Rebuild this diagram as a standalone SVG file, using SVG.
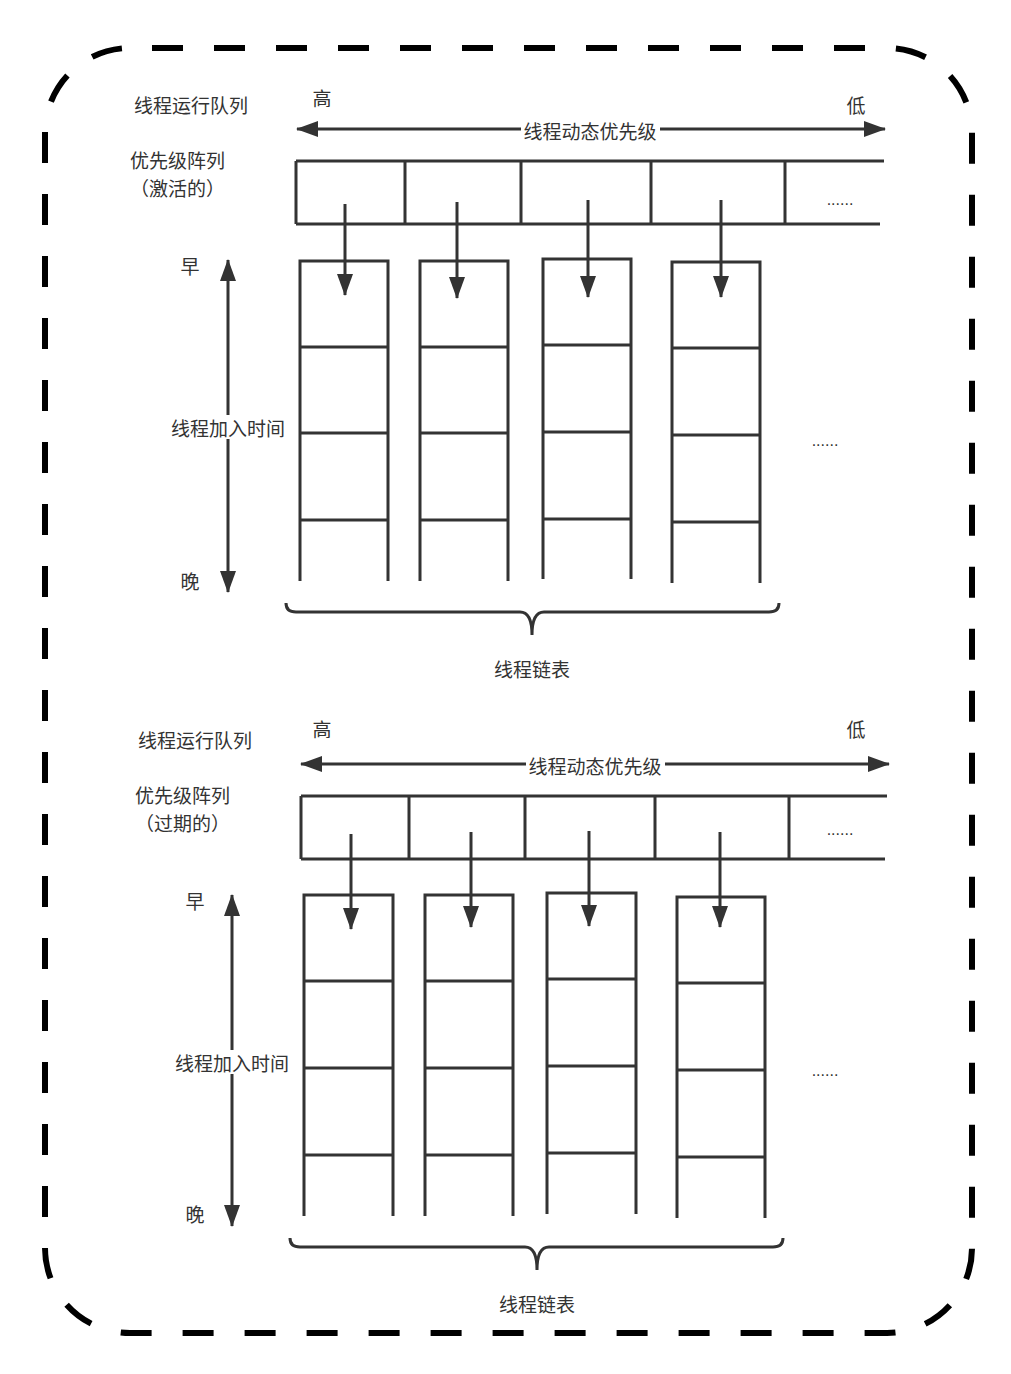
<svg xmlns="http://www.w3.org/2000/svg" width="1011" height="1374" viewBox="0 0 1011 1374">
<style>
.t{font-family:"Noto Sans CJK SC","Noto Sans",sans-serif;font-size:19px;fill:#333;dominant-baseline:central}
.m{text-anchor:middle}
.d{font-family:"Liberation Sans",sans-serif;font-size:16px;fill:#333;text-anchor:middle;dominant-baseline:central}
.s{fill:none;stroke:#333;stroke-width:3}
.a{fill:none;stroke:#333;stroke-width:3}
.bg{fill:#fff}
</style>
<defs>
<marker id="ah" viewBox="0 0 22 16" refX="21" refY="8" markerWidth="22" markerHeight="16" markerUnits="userSpaceOnUse" orient="auto-start-reverse">
<path d="M0,0 L22,8 L0,16 z" fill="#333"/>
</marker>
</defs>
<rect width="1011" height="1374" fill="#fff"/>
<g id="border">
<rect x="45" y="48" width="927" height="1285" rx="85" ry="85" fill="none" stroke="#000" stroke-width="6" stroke-dasharray="31 31" stroke-dashoffset="40"/>
</g>

<!-- top section -->
<g id="top-title"><text class="t" x="134" y="104">线程运行队列</text></g>
<g id="top-high"><text class="t m" x="322" y="97">高</text></g>
<g id="top-low"><text class="t m" x="856" y="104">低</text></g>
<g id="top-array-label">
<text class="t" x="130" y="159">优先级阵列</text>
<text class="t" x="130" y="187">（激活的）</text>
</g>
<g id="top-array">
<path class="s" d="M296,161 H884 M296,224 H880 M296,161 V224 M405,161 V224 M521,161 V224 M651,161 V224 M785,161 V224"/>
<text class="d" x="840" y="199">......</text>
</g>
<g id="top-list-1"><path class="s" d="M300,581 V261 H388 V581 M300,347 H388 M300,433 H388 M300,520 H388"/></g>
<g id="top-list-2"><path class="s" d="M420,581 V261 H508 V581 M420,347 H508 M420,433 H508 M420,520 H508"/></g>
<g id="top-list-3"><path class="s" d="M543,579 V259 H631 V579 M543,345 H631 M543,432 H631 M543,519 H631"/></g>
<g id="top-list-4"><path class="s" d="M672,583 V262 H760 V583 M672,348 H760 M672,435 H760 M672,522 H760"/></g>
<g id="top-more"><text class="d" x="825" y="440">......</text></g>
<g id="top-early"><text class="t m" x="190" y="265">早</text></g>
<g id="top-late"><text class="t m" x="190" y="580">晚</text></g>
<g id="top-brace"><path class="s" d="M286,603 Q286,612 296,612 H520 Q532,612 532,635 Q532,612 544,612 H769 Q779,612 779,603"/></g>
<g id="top-list-label"><text class="t m" x="532" y="668">线程链表</text></g>

<!-- bottom section -->
<g id="bot-title"><text class="t" x="138" y="739">线程运行队列</text></g>
<g id="bot-high"><text class="t m" x="322" y="728">高</text></g>
<g id="bot-low"><text class="t m" x="856" y="728">低</text></g>
<g id="bot-array-label">
<text class="t" x="135" y="794">优先级阵列</text>
<text class="t" x="135" y="822">（过期的）</text>
</g>
<g id="bot-array">
<path class="s" d="M301,796 H887 M301,859 H885 M301,796 V859 M409,796 V859 M525,796 V859 M655,796 V859 M789,796 V859"/>
<text class="d" x="840" y="829">......</text>
</g>
<g id="bot-list-1"><path class="s" d="M304,1216 V895 H393 V1216 M304,981 H393 M304,1068 H393 M304,1155 H393"/></g>
<g id="bot-list-2"><path class="s" d="M425,1216 V895 H513 V1216 M425,981 H513 M425,1068 H513 M425,1155 H513"/></g>
<g id="bot-list-3"><path class="s" d="M547,1214 V893 H636 V1214 M547,979 H636 M547,1066 H636 M547,1153 H636"/></g>
<g id="bot-list-4"><path class="s" d="M677,1218 V897 H765 V1218 M677,983 H765 M677,1070 H765 M677,1157 H765"/></g>
<g id="bot-more"><text class="d" x="825" y="1070">......</text></g>
<g id="bot-early"><text class="t m" x="195" y="900">早</text></g>
<g id="bot-late"><text class="t m" x="195" y="1213">晚</text></g>
<g id="bot-brace"><path class="s" d="M290,1238 Q290,1247 300,1247 H525 Q537,1247 537,1270 Q537,1247 549,1247 H773 Q783,1247 783,1238"/></g>
<g id="bot-list-label"><text class="t m" x="537" y="1303">线程链表</text></g>

<g id="connectors">
<line class="a" x1="297" y1="129" x2="885" y2="129" marker-start="url(#ah)" marker-end="url(#ah)"/>
<rect class="bg" x="521" y="118" width="139" height="24"/>
<text class="t m" x="590" y="130">线程动态优先级</text>
<line class="a" x1="345" y1="204" x2="345" y2="295" marker-end="url(#ah)"/>
<line class="a" x1="457" y1="202" x2="457" y2="298" marker-end="url(#ah)"/>
<line class="a" x1="588" y1="200" x2="588" y2="297" marker-end="url(#ah)"/>
<line class="a" x1="721" y1="200" x2="721" y2="297" marker-end="url(#ah)"/>
<line class="a" x1="228" y1="260" x2="228" y2="592" marker-start="url(#ah)" marker-end="url(#ah)"/>
<rect class="bg" x="170" y="415" width="116" height="24"/>
<text class="t m" x="228" y="427">线程加入时间</text>

<line class="a" x1="301" y1="764" x2="889" y2="764" marker-start="url(#ah)" marker-end="url(#ah)"/>
<rect class="bg" x="526" y="753" width="139" height="24"/>
<text class="t m" x="595" y="765">线程动态优先级</text>
<line class="a" x1="351" y1="834" x2="351" y2="929" marker-end="url(#ah)"/>
<line class="a" x1="471" y1="832" x2="471" y2="927" marker-end="url(#ah)"/>
<line class="a" x1="589" y1="831" x2="589" y2="926" marker-end="url(#ah)"/>
<line class="a" x1="720" y1="832" x2="720" y2="927" marker-end="url(#ah)"/>
<line class="a" x1="232" y1="895" x2="232" y2="1226" marker-start="url(#ah)" marker-end="url(#ah)"/>
<rect class="bg" x="174" y="1050" width="116" height="24"/>
<text class="t m" x="232" y="1062">线程加入时间</text>
</g>
</svg>
